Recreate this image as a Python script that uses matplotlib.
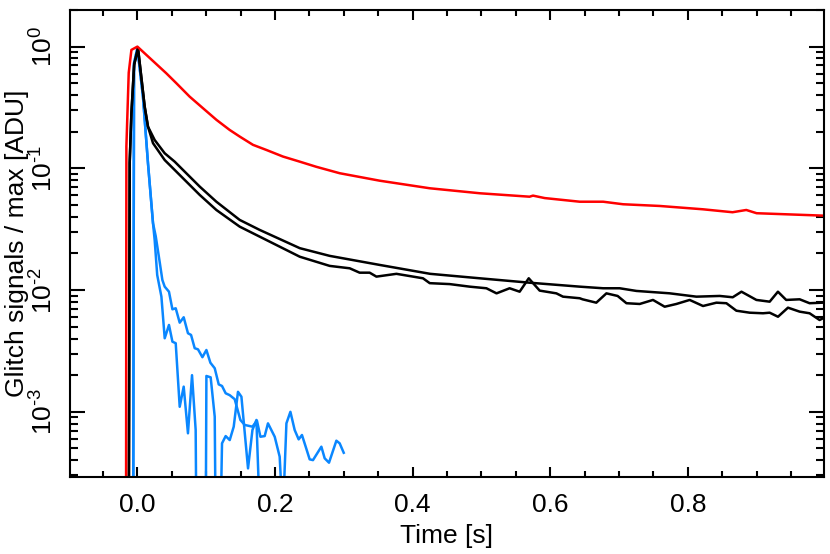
import numpy as np
import matplotlib.pyplot as plt
from matplotlib.ticker import MultipleLocator, LogLocator, FuncFormatter, NullFormatter

plt.rcParams["font.family"] = "Liberation Sans"
plt.rcParams["mathtext.fontset"] = "custom"
plt.rcParams["mathtext.rm"] = "Liberation Sans"
plt.rcParams["mathtext.it"] = "Liberation Sans"
plt.rcParams["font.size"] = 19

# red curve
t_red = [-0.0165, -0.016, -0.0126, -0.0087, 0.0, 0.042, 0.0567, 0.076, 0.0953,
         0.115, 0.134, 0.149, 0.168, 0.1875, 0.2116, 0.236, 0.26, 0.294, 0.352,
         0.425, 0.498, 0.570, 0.575, 0.592, 0.643, 0.677, 0.706, 0.759, 0.822,
         0.865, 0.885, 0.90, 0.996]
y_red = [1e-4, 0.151, 0.61, 0.94, 1.0, 0.604, 0.50, 0.388, 0.312,
         0.250, 0.207, 0.182, 0.156, 0.1416, 0.125, 0.1135, 0.103, 0.0912, 0.0792,
         0.0686, 0.0624, 0.0585, 0.0597, 0.057, 0.0532, 0.0532, 0.0507, 0.0491, 0.0461,
         0.0436, 0.0455, 0.0428, 0.0409]

# black curves (upper / lower)
t_blk_up = [-0.0125, -0.0112, -0.0087, -0.0047, 0.0009, 0.0106, 0.0154, 0.0251, 0.0397,
            0.0542, 0.0663, 0.0906, 0.1148, 0.1487, 0.1778, 0.236, 0.2795, 0.352,
            0.4255, 0.4975, 0.570, 0.643, 0.677, 0.701, 0.7253, 0.7734, 0.8125,
            0.8464, 0.8653, 0.878, 0.8997, 0.919, 0.931, 0.943, 0.9626, 0.977, 0.996]
y_blk_up = [1e-4, 0.111, 0.284, 0.71, 0.97, 0.321, 0.220, 0.171, 0.133,
            0.1135, 0.097, 0.0708, 0.0532, 0.0377, 0.0312, 0.0221, 0.0191, 0.0161,
            0.0136, 0.0125, 0.0115, 0.01067, 0.01035, 0.01035, 0.00984, 0.00941, 0.00883,
            0.00895, 0.00873, 0.0097, 0.0083, 0.00803, 0.0097, 0.0083, 0.0084, 0.0078, 0.00788]

t_blk_lo = [-0.0125, -0.0112, -0.0087, -0.0047, 0.0009, 0.0106, 0.0154, 0.0227, 0.0397,
            0.0542, 0.0663, 0.0906, 0.1148, 0.1487, 0.236, 0.2795, 0.3086, 0.323,
            0.3376, 0.3474, 0.3765, 0.4151, 0.4249, 0.4539, 0.483, 0.5073, 0.522,
            0.541, 0.5556, 0.5688, 0.5847, 0.609, 0.6186, 0.6429, 0.647, 0.667,
            0.6817, 0.698, 0.7108, 0.7301, 0.7494, 0.7664, 0.7834, 0.8027, 0.8221,
            0.8416, 0.8561, 0.8706, 0.89, 0.9093, 0.919, 0.9311, 0.9456, 0.9626,
            0.977, 0.9915, 1.0]
y_blk_lo = [1e-4, 0.111, 0.284, 0.71, 0.97, 0.321, 0.220, 0.161, 0.117,
            0.097, 0.0829, 0.0605, 0.0455, 0.0332, 0.0188, 0.0158, 0.0151, 0.0139,
            0.0139, 0.0129, 0.0136, 0.0125, 0.0114, 0.0112, 0.01067, 0.01035, 0.0094,
            0.01035, 0.0097, 0.0125, 0.0099, 0.0094, 0.00883, 0.00857, 0.0084, 0.00788,
            0.0094, 0.00895, 0.0078, 0.00769, 0.0083, 0.0073, 0.00769, 0.0083, 0.0074,
            0.00788, 0.0078, 0.00677, 0.00652, 0.00645, 0.00652, 0.00604, 0.00717, 0.00665,
            0.00645, 0.00568, 0.006]

# blue curves
t_blue_a = [-0.0061, -0.0049, 0.0, 0.0081, 0.0154, 0.0227, 0.0266, 0.0324, 0.0363,
            0.0397, 0.0459, 0.0509, 0.0557, 0.0615, 0.0673, 0.0735, 0.078, 0.0833,
            0.0881, 0.0945, 0.1003, 0.1061, 0.1124, 0.1182, 0.123, 0.1283, 0.1342,
            0.1414, 0.1497, 0.156, 0.1672, 0.1738, 0.1788, 0.185, 0.1898, 0.1996,
            0.2068, 0.2098, 0.2125, 0.2166, 0.2224, 0.2286, 0.2344, 0.2392, 0.2446,
            0.2504, 0.2552, 0.2674, 0.2722, 0.2785, 0.2892, 0.294, 0.2999]
y_blue_a = [1e-4, 0.73, 0.97, 0.388, 0.110, 0.0354, 0.0278, 0.0170, 0.0121,
            0.01067, 0.0097, 0.00695, 0.00709, 0.0054, 0.00598, 0.00442, 0.00428, 0.00333,
            0.00326, 0.00281, 0.00322, 0.00253, 0.00228, 0.00168, 0.00163, 0.00142, 0.00137,
            0.00127, 0.000857, 0.00078, 0.000755, 0.000845, 0.000624, 0.000632, 0.000804, 0.000624,
            0.000428, 2e-4, 2e-4, 0.000804, 0.001, 0.000709, 0.000594, 0.000645, 0.000517,
            0.000407, 0.000401, 0.000517, 0.000415, 0.000382, 0.000579, 0.000551, 0.000461]

t_blue_b = [-0.0061, -0.0049, 0.0, 0.0081, 0.0154, 0.0227, 0.0251, 0.0288, 0.0349,
            0.0397, 0.0459, 0.0509, 0.0557, 0.0615, 0.0673, 0.0735, 0.0794, 0.0847,
            0.0858, 0.0993, 0.1003, 0.1065, 0.1124, 0.1138, 0.1206, 0.123, 0.1283,
            0.1342, 0.14, 0.1462, 0.1512, 0.1608, 0.1672, 0.173, 0.1788]
y_blue_b = [1e-4, 0.73, 0.97, 0.388, 0.110, 0.0354, 0.0258, 0.0133, 0.00883,
            0.00402, 0.00517, 0.00377, 0.00366, 0.0011, 0.00161, 0.000666, 0.002, 0.000709,
            1e-4, 1e-4, 0.00197, 0.00192, 0.000912, 1e-4, 1e-4, 0.000551, 0.000632,
            0.000586, 0.000755, 0.00146, 0.00133, 0.000343, 0.000709, 0.000857, 1e-4]

fig = plt.figure(figsize=(8.3, 5.54), dpi=100)
ax = fig.add_axes([0.0843, 0.1395, 0.9085, 0.8425])

blue = '#0a87ff'
lw = 1.8
ax.plot(t_blue_a, y_blue_a, color=blue, lw=lw)
ax.plot(t_blue_b, y_blue_b, color=blue, lw=lw)
ax.plot(t_blk_up, y_blk_up, color='black', lw=lw)
ax.plot(t_blk_lo, y_blk_lo, color='black', lw=lw)
ax.plot(t_red, y_red, color='red', lw=lw)

ax.set_yscale('log')
ax.set_xlim(-0.098, 0.998)
ax.set_ylim(2.93e-4, 2.0)

ax.xaxis.set_major_locator(MultipleLocator(0.2))
ax.xaxis.set_minor_locator(MultipleLocator(0.05))
ax.xaxis.set_major_formatter(FuncFormatter(lambda v, p: '%.1f' % v))
ax.yaxis.set_major_locator(LogLocator(base=10, numticks=10))
ax.yaxis.set_minor_locator(LogLocator(base=10, subs=np.arange(2, 10), numticks=20))
ax.yaxis.set_minor_formatter(NullFormatter())


def yfmt(v, p):
    e = int(round(np.log10(v)))
    if e < 0:
        return r'$\mathregular{10^{\text{-}%d}}$' % (-e)
    return r'$\mathregular{10^{%d}}$' % e


ax.yaxis.set_major_formatter(FuncFormatter(yfmt))

for s in ax.spines.values():
    s.set_linewidth(1.5)
ax.tick_params(axis='both', which='both', direction='in', top=True, right=True, width=1.5)
ax.tick_params(axis='x', which='major', length=7, pad=12)
ax.tick_params(axis='x', which='minor', length=4)
ax.tick_params(axis='y', which='major', length=11, pad=9)
ax.tick_params(axis='y', which='minor', length=6)
for lab in ax.get_yticklabels():
    lab.set_rotation(90)
    lab.set_va('center')

ax.set_xlabel('Time [s]', labelpad=5)
ax.set_ylabel('Glitch signals / max [ADU]', labelpad=1)

plt.savefig('out.png', dpi=100)
